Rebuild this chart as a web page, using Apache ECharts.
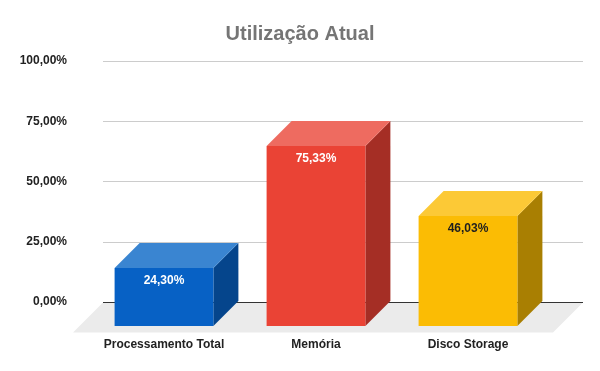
<!DOCTYPE html>
<html><head><meta charset="utf-8">
<script src="https://cdn.jsdelivr.net/npm/echarts@6/dist/echarts.min.js"></script>
<style>html,body{margin:0;padding:0;background:#fff}#c{width:600px;height:371px}</style>
</head><body><div id="c"></div>
<script>
const categories = ['Processamento Total', 'Memória', 'Disco Storage'];
const values = [24.30, 75.33, 46.03];
const yTicks = [0, 25, 50, 75, 100];
const frontColors = ['#0761C5', '#EA4335', '#FBBC04'];
const topColors = ['#3A85D1', '#EE6B60', '#FCC936'];
const sideColors = ['#05458C', '#A52E25', '#A97F02'];
const labelColors = ['#ffffff', '#ffffff', '#1f1f1f'];

const chart = echarts.init(document.getElementById('c'), null, {renderer: 'canvas'});
const D = 25;
const fmt = v => v.toFixed(2).replace('.', ',') + '%';

chart.setOption({
  animation: false,
  title: {text: 'Utilização Atual', left: 'center', top: 19,
    textStyle: {fontFamily: 'Liberation Sans', fontSize: 20, fontWeight: 'bold', color: '#757575'}},
  grid: [
    {left: 103, right: 17, top: 61, bottom: 69},
    {left: 88, width: 456, top: 87, bottom: 45}
  ],
  xAxis: [
    {gridIndex: 0, type: 'value', min: 0, max: 1, show: false},
    {gridIndex: 1, type: 'category', data: categories,
      axisLine: {show: false}, axisTick: {show: false},
      axisLabel: {interval: 0, margin: 13, fontFamily: 'Liberation Sans', fontSize: 12, fontWeight: 'bold', color: '#222'}}
  ],
  yAxis: [
    {gridIndex: 0, type: 'value', min: yTicks[0], max: yTicks[yTicks.length-1], interval: 25,
      axisLine: {show: false}, axisTick: {show: false},
      splitLine: {lineStyle: {color: '#cccccc', width: 1}},
      axisLabel: {margin: 36, formatter: v => fmt(v), fontFamily: 'Liberation Sans', fontSize: 12, fontWeight: 'bold', color: '#222'}},
    {gridIndex: 1, type: 'value', min: 0, max: 100, show: false}
  ],
  series: [
    {
      type: 'custom', xAxisIndex: 0, yAxisIndex: 0, data: [[0, 0]], silent: true,
      renderItem: (params, api) => {
        const cs = params.coordSys;
        const y0 = Math.round(api.coord([0, 0])[1]) + 0.5;
        const x0 = cs.x, x1 = cs.x + cs.width, f = 30;
        return {type: 'group', children: [
          {type: 'polygon', shape: {points: [[x0, y0], [x1, y0], [x1 - f, y0 + f], [x0 - f, y0 + f]]},
            style: {fill: '#ebebeb'}},
          {type: 'line', shape: {x1: x0, y1: y0, x2: x1, y2: y0}, style: {stroke: '#333333', lineWidth: 1}}
        ]};
      }
    },
    {
      type: 'custom', xAxisIndex: 1, yAxisIndex: 1,
      data: values.map((v, i) => [i, v]),
      renderItem: (params, api) => {
        const i = api.value(0), v = api.value(1);
        const top = api.coord([i, v]);
        const base = api.coord([i, 0]);
        const w = api.size([1, 0])[0] * 0.65;
        const xl = top[0] - w / 2, xr = top[0] + w / 2;
        const yt = top[1], yb = base[1];
        return {type: 'group', children: [
          {type: 'polygon', shape: {points: [[xr, yt], [xr + D, yt - D], [xr + D, yb - D], [xr, yb]]},
            style: {fill: sideColors[i]}},
          {type: 'polygon', shape: {points: [[xl, yt], [xl + D, yt - D], [xr + D, yt - D], [xr, yt]]},
            style: {fill: topColors[i]}},
          {type: 'rect', shape: {x: xl, y: yt, width: w, height: yb - yt}, style: {fill: frontColors[i]}},
          {type: 'text', style: {x: top[0], y: yt + 13, text: fmt(v), align: 'center', verticalAlign: 'middle',
            fill: labelColors[i], font: 'bold 12px "Liberation Sans"'}}
        ]};
      }
    }
  ]
});
</script></body></html>
